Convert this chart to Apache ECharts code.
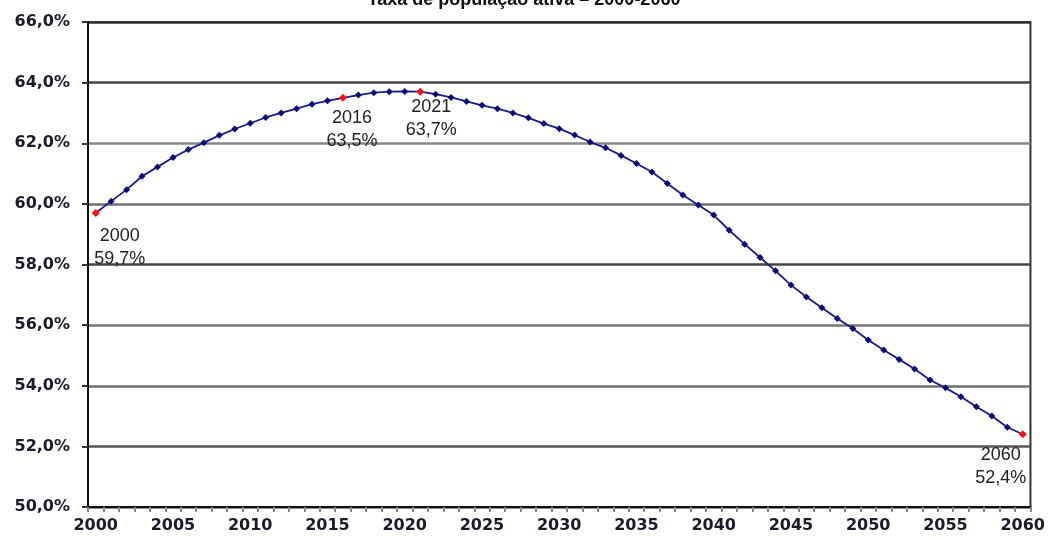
<!DOCTYPE html>
<html>
<head>
<meta charset="utf-8">
<script src="https://cdn.jsdelivr.net/npm/echarts@6/dist/echarts.min.js"></script>
<style>html,body{margin:0;padding:0;background:#fff;}#c{width:1048px;height:540px;}</style>
</head>
<body>
<div id="c"></div>
<script>
var titleText = 'Taxa de população ativa – 2000-2060';
var years = [];
for (var y = 2000; y <= 2060; y++) years.push(String(y));
var values = [
  59.7, 60.09, 60.47, 60.91, 61.22, 61.53, 61.79, 62.02, 62.26, 62.47,
  62.66, 62.85, 63.00, 63.14, 63.29, 63.40, 63.5, 63.59, 63.67, 63.70,
  63.71, 63.7, 63.62, 63.51, 63.38, 63.25, 63.14, 63.00, 62.84, 62.65,
  62.48, 62.27, 62.04, 61.85, 61.60, 61.33, 61.05, 60.67, 60.29, 59.96,
  59.63, 59.13, 58.67, 58.23, 57.79, 57.32, 56.93, 56.57, 56.22, 55.89,
  55.51, 55.18, 54.87, 54.55, 54.19, 53.93, 53.64, 53.31, 53.00, 52.63,
  52.4
];
var highlightYears = ['2000', '2016', '2021', '2060'];
var highlightOffsets = {'2000': [24, 4], '2016': [9, 1], '2021': [11, -4], '2060': [-22, 1]};
var yTicks = [50, 52, 54, 56, 58, 60, 62, 64, 66];

function fmt(v) { return v.toFixed(1).replace('.', ',') + '%'; }

var seriesData = values.map(function (v, i) {
  var yr = years[i];
  if (highlightYears.indexOf(yr) >= 0) {
    return {
      value: v,
      symbolSize: 8,
      itemStyle: {color: '#ff1010'},
      label: {
        show: true,
        position: 'bottom',
        distance: 4,
        offset: highlightOffsets[yr],
        align: 'center',
        formatter: yr + '\n' + fmt(v),
        fontFamily: 'Liberation Sans',
        fontSize: 18,
        lineHeight: 23,
        color: '#222'
      }
    };
  }
  return v;
});

var chart = echarts.init(document.getElementById('c'));
chart.setOption({
  backgroundColor: '#fff',
  animation: false,
  title: {
    text: titleText,
    left: 'center',
    top: -14,
    textStyle: {fontFamily: 'Liberation Sans', fontWeight: 'bold', fontSize: 18, color: '#111'}
  },
  grid: {left: 88, right: 17, top: 22, bottom: 33, show: true, borderColor: '#333', borderWidth: 2, backgroundColor: 'transparent'},
  xAxis: {
    type: 'category',
    data: years,
    boundaryGap: true,
    axisLine: {lineStyle: {color: '#111', width: 2}},
    axisTick: {show: true, interval: 0, length: 5, lineStyle: {color: '#888', width: 2}},
    axisLabel: {
      interval: 4,
      margin: 11,
      fontFamily: 'DejaVu Sans',
      fontWeight: 'bold',
      fontSize: 16,
      color: '#1a1a2a'
    },
    splitLine: {show: false}
  },
  yAxis: {
    type: 'value',
    min: yTicks[0],
    max: yTicks[yTicks.length - 1],
    interval: 2,
    axisLine: {show: true, lineStyle: {color: '#111', width: 2}},
    axisTick: {show: true, length: 6, lineStyle: {color: '#333', width: 2}},
    axisLabel: {
      margin: 18,
      formatter: function (v) { return fmt(v); },
      fontFamily: 'DejaVu Sans',
      fontWeight: 'bold',
      fontSize: 16,
      color: '#1a1a2a'
    },
    splitLine: {show: true, lineStyle: {color: ['#666', '#555', '#707070', '#777', '#444', '#707070', '#888', '#444', '#333'], width: 2.5}}
  },
  series: [{
    type: 'line',
    data: seriesData,
    smooth: false,
    symbol: 'diamond',
    symbolSize: 7,
    showAllSymbol: true,
    lineStyle: {color: '#1a1a8c', width: 1.8},
    itemStyle: {color: '#0a0a78'}
  }]
});
</script>
</body>
</html>
